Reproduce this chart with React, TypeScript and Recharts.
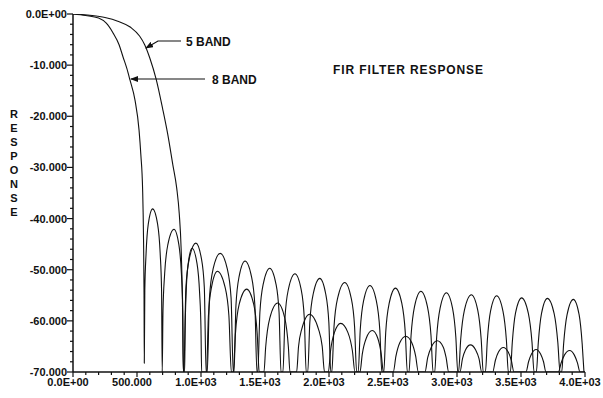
import React from 'react';
import { LineChart, Line, XAxis, YAxis } from 'recharts';

// ---- data (Hz, dB) ----
const band5Points: [number, number][] = [
  [0, 0], [150, -0.3], [250, -0.7], [350, -1.4], [450, -2.6], [520, -4.3], [560, -6.0], [600, -8.6],
  [650, -12.8], [700, -18.5], [740, -23.5], [780, -29.5], [810, -34], [830, -39], [845, -46], [855, -56], [862, -70],
  [866, -70], [882, -53.5], [909, -47.8], [960, -44.8], [1003, -47.8], [1026, -53.5], [1040, -70],
  [1049, -70], [1066, -55.5], [1095, -49.8], [1150, -46.8], [1205, -49.8], [1235, -55.5], [1252, -70],
  [1258, -70], [1273, -57.0], [1298, -51.3], [1344, -48.3], [1394, -51.3], [1421, -57.0], [1437, -70],
  [1444, -70], [1460, -58.4], [1487, -52.7], [1537, -49.7], [1585, -52.7], [1610, -58.4], [1625, -70],
  [1640, -70], [1656, -59.5], [1683, -53.8], [1734, -50.8], [1782, -53.8], [1807, -59.5], [1822, -70],
  [1834, -70], [1850, -60.4], [1877, -54.7], [1928, -51.7], [1974, -54.7], [1999, -60.4], [2014, -70],
  [2022, -70], [2039, -61.2], [2068, -55.5], [2123, -52.5], [2173, -55.5], [2200, -61.2], [2216, -70],
  [2228, -70], [2244, -61.8], [2270, -56.1], [2320, -53.1], [2370, -56.1], [2397, -61.8], [2413, -70],
  [2428, -70], [2443, -62.3], [2470, -56.6], [2519, -53.6], [2569, -56.6], [2596, -62.3], [2612, -70],
  [2625, -70], [2641, -62.9], [2668, -57.2], [2718, -54.2], [2769, -57.2], [2797, -62.9], [2813, -70],
  [2826, -70], [2841, -63.2], [2868, -57.5], [2917, -54.5], [2965, -57.5], [2991, -63.2], [3006, -70],
  [3012, -70], [3029, -63.6], [3058, -57.9], [3112, -54.9], [3162, -57.9], [3189, -63.6], [3205, -70],
  [3222, -70], [3237, -63.8], [3262, -58.1], [3310, -55.1], [3359, -58.1], [3386, -63.8], [3401, -70],
  [3417, -70], [3432, -64.2], [3457, -58.5], [3505, -55.5], [3557, -58.5], [3586, -64.2], [3602, -70],
  [3620, -70], [3635, -64.3], [3660, -58.6], [3706, -55.6], [3759, -58.6], [3788, -64.3], [3805, -70],
  [3818, -70], [3833, -64.5], [3860, -58.8], [3909, -55.8], [3954, -58.8], [3978, -64.5], [3992, -70],
];

const band8Points: [number, number][] = [
  [0, 0], [100, -0.3], [200, -0.8], [260, -1.8], [313, -3.7], [360, -6.0], [391, -8.4], [420, -10.6],
  [445, -12.9], [484, -16.8], [516, -22.7], [530, -27.5], [544, -34.4], [551, -44], [555, -55], [557, -68.3],
  [561, -54.1], [571, -46.8], [588, -41.1], [622, -38.1], [661, -41.1], [681, -46.8], [692, -54.1], [697, -70],
  [703, -58.1], [716, -50.8], [741, -45.1], [789, -42.1], [827, -45.1], [847, -50.8], [858, -58.1], [862, -70],
  [872, -70], [876, -61.8], [884, -54.5], [900, -48.8], [930, -45.8], [969, -48.8], [989, -54.5], [1000, -61.8], [1005, -70],
  [1043, -70], [1058, -59.0], [1083, -53.3], [1128, -50.3], [1187, -53.3], [1218, -59.0], [1237, -70],
  [1252, -70], [1269, -62.5], [1298, -56.8], [1357, -53.8], [1412, -56.8], [1439, -62.5], [1455, -70],
  [1492, -70], [1505, -65.2], [1537, -59.5], [1599, -56.5], [1655, -59.5], [1683, -65.2], [1695, -70],
  [1747, -70], [1762, -65.0], [1786, -61.7], [1848, -58.7], [1919, -61.7], [1947, -65.0], [1965, -70],
  [1995, -70], [2012, -65.9], [2042, -62.3], [2091, -60.5], [2148, -62.3], [2183, -65.9], [2203, -70],
  [2242, -70], [2260, -66.5], [2291, -63.4], [2338, -61.9], [2381, -63.4], [2408, -66.5], [2425, -70],
  [2502, -70], [2523, -66.9], [2553, -64.3], [2600, -63.0], [2647, -64.3], [2677, -66.9], [2698, -70],
  [2750, -70], [2771, -67.2], [2800, -65.1], [2846, -63.9], [2892, -65.1], [2915, -67.2], [2935, -70],
  [3023, -70], [3043, -67.4], [3066, -65.7], [3105, -64.7], [3146, -65.7], [3172, -67.4], [3193, -70],
  [3279, -70], [3300, -67.7], [3324, -66.1], [3362, -65.2], [3400, -66.1], [3424, -67.7], [3445, -70],
  [3539, -70], [3559, -68.0], [3582, -66.5], [3618, -65.6], [3653, -66.5], [3676, -68.0], [3695, -70],
  [3792, -70], [3814, -68.2], [3839, -66.7], [3880, -65.8], [3917, -66.7], [3941, -68.2], [3961, -70], [4000, -70],
];

const xTickValues = [0, 100, 200, 300, 400, 500, 600, 700, 800, 900, 1000, 1100, 1200, 1300, 1400, 1500, 1600, 1700, 1800, 1900, 2000,
  2100, 2200, 2300, 2400, 2500, 2600, 2700, 2800, 2900, 3000, 3100, 3200, 3300, 3400, 3500, 3600, 3700, 3800, 3900, 4000];
const xMajorValues = [0, 500, 1000, 1500, 2000, 2500, 3000, 3500, 4000];
const xMajorLabels = ['0.0E+00', '500.000', '1.0E+03', '1.5E+03', '2.0E+03', '2.5E+03', '3.0E+03', '3.5E+03', '4.0E+03'];

const yTickValues = [0, -2, -4, -6, -8, -10, -12, -14, -16, -18, -20, -22, -24, -26, -28, -30, -32, -34, -36, -38, -40,
  -42, -44, -46, -48, -50, -52, -54, -56, -58, -60, -62, -64, -66, -68, -70];
const yMajorValues = [0, -10, -20, -30, -40, -50, -60, -70];
const yMajorLabels = ['0.0E+00', '-10.000', '-20.000', '-30.000', '-40.000', '-50.000', '-60.000', '-70.000'];

const seriesNames = ['5 BAND', '8 BAND'];
const titleText = 'FIR FILTER RESPONSE';
const yAxisTitle = 'RESPONSE';

const band5Data = band5Points.map(([x, y]) => ({ x, y }));
const band8Data = band8Points.map(([x, y]) => ({ x, y }));

const FONT = '"Liberation Sans", Arial, Helvetica, sans-serif';
const INK = '#111';

const XTick = (props: any) => {
  const { x, y, payload } = props;
  const idx = xMajorValues.indexOf(payload.value);
  const major = idx >= 0;
  return (
    <g>
      <line x1={x} x2={x} y1={y} y2={y + (major ? 5 : 3)} stroke={INK} strokeWidth={1.2} />
      {major && (
        <text x={x - 5} y={y + 14} textAnchor="middle" fontFamily={FONT} fontWeight="bold" fontSize={11} fill={INK}>
          {xMajorLabels[idx]}
        </text>
      )}
    </g>
  );
};

const YTick = (props: any) => {
  const { x, y, payload } = props;
  const idx = yMajorValues.indexOf(payload.value);
  const major = idx >= 0;
  return (
    <g>
      <line x1={x} x2={x - (major ? 6 : 3)} y1={y} y2={y} stroke={INK} strokeWidth={1.2} />
      {major && (
        <text x={x - 6} y={y + 4} textAnchor="end" fontFamily={FONT} fontWeight="bold" fontSize={11} fill={INK}>
          {yMajorLabels[idx]}
        </text>
      )}
    </g>
  );
};

export default function App() {
  return (
    <div style={{ position: 'absolute', left: 0, top: 0, width: 603, height: 398, background: '#fff' }}>
      <LineChart width={603} height={398} margin={{ top: 14, right: 18, left: 0, bottom: 0 }}>
        <XAxis
          type="number"
          dataKey="x"
          domain={[0, 4000]}
          ticks={xTickValues}
          interval={0}
          height={26}
          tickSize={0}
          tickMargin={0}
          tickLine={false}
          axisLine={{ stroke: INK, strokeWidth: 1.5 }}
          tick={<XTick />}
          allowDataOverflow
        />
        <YAxis
          type="number"
          dataKey="y"
          domain={[-70, 0]}
          ticks={yTickValues}
          interval={0}
          width={73}
          tickSize={0}
          tickMargin={0}
          tickLine={false}
          axisLine={{ stroke: INK, strokeWidth: 1.5 }}
          tick={<YTick />}
          allowDataOverflow
        />
        <Line data={band5Data} dataKey="y" name={seriesNames[0]} type="monotone" stroke={INK} strokeWidth={1.1} dot={false} isAnimationActive={false} />
        <Line data={band8Data} dataKey="y" name={seriesNames[1]} type="monotone" stroke={INK} strokeWidth={1.1} dot={false} isAnimationActive={false} />
      </LineChart>
      <svg width={603} height={398} style={{ position: 'absolute', left: 0, top: 0, pointerEvents: 'none' }}>
        <defs>
          <marker id="ah" markerWidth="8" markerHeight="6" refX="7" refY="3" orient="auto" markerUnits="userSpaceOnUse">
            <path d="M0,0 L8,3 L0,6 Z" fill={INK} />
          </marker>
        </defs>
        <polyline points="181,41 158,41 146,48" fill="none" stroke={INK} strokeWidth={1.2} markerEnd="url(#ah)" />
        <line x1={205} y1={79} x2={131} y2={79} stroke={INK} strokeWidth={1.2} markerEnd="url(#ah)" />
        <text x={186} y={45.5} fontFamily={FONT} fontWeight="bold" fontSize={12} fill={INK}>{seriesNames[0]}</text>
        <text x={212} y={84} fontFamily={FONT} fontWeight="bold" fontSize={12} fill={INK}>{seriesNames[1]}</text>
        <text x={333} y={74} fontFamily={FONT} fontWeight="bold" fontSize={12} letterSpacing={0.9} fill={INK}>{titleText}</text>
        {yAxisTitle.split('').map((ch, i) => (
          <text key={i} x={14} y={118 + i * 14} textAnchor="middle" fontFamily={FONT} fontWeight="bold" fontSize={11} fill={INK}>{ch}</text>
        ))}
      </svg>
    </div>
  );
}
